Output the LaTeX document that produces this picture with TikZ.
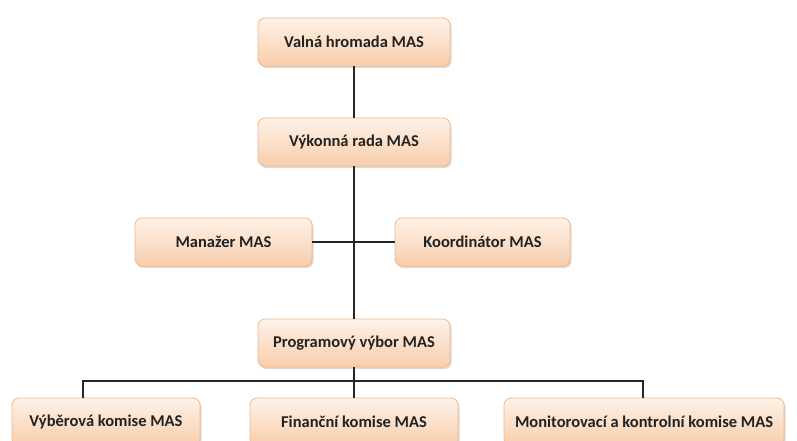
\documentclass[tikz,border=0pt]{standalone}
\usepackage{fontspec}
\setmainfont{Carlito}
\usetikzlibrary{positioning, shadows}

\definecolor{okraj}{HTML}{F2B88A}
\definecolor{hornibarva}{HTML}{FEF2E8}
\definecolor{dolnibarva}{HTML}{F9CDAB}
\definecolor{textbarva}{HTML}{222222}

\tikzset{
  organ/.style={draw=okraj, line width=0.8pt, rounded corners=7pt,
    top color=hornibarva, bottom color=dolnibarva,
    drop shadow={shadow xshift=1.5pt, shadow yshift=-2pt, opacity=0.25, fill=black!60},
    minimum height=48pt, inner sep=0pt, text=textbarva,
    font=\fontsize{16.5}{18}\selectfont\bfseries},
  spoj/.style={draw=black!85, line width=1.1pt}
}

\begin{document}
\begin{tikzpicture}[x=1pt, y=-1pt]
    \useasboundingbox (0,0) rectangle (797,441);
    \clip (0,0) rectangle (797,441);

    % Vedeni
    \node[organ, minimum width=192pt] (valna) at (354,42) {Valná hromada MAS};
    \node[organ, minimum width=192pt] (vykonna) at (354,142) {Výkonná rada MAS};

    % Stredni uroven
    \node[organ, minimum width=177pt] (manazer) at (223.5,242) {Manažer MAS};
    \node[organ, minimum width=175pt] (koord) at (482.5,242) {Koordinátor MAS};

    \node[organ, minimum width=192pt] (program) at (354,343) {Programový výbor MAS};

    % Komise
    \node[organ, minimum width=188pt] (vyber) at (106,422) {Výběrová komise MAS};
    \node[organ, minimum width=208pt] (financni) at (354,422) {Finanční komise MAS};
    \node[organ, minimum width=280pt] (monitor) at (644,422) {Monitorovací a kontrolní komise MAS};

    % Spojnice
    \coordinate (rozcesti) at (354,381);
    \coordinate (levy) at (83,381);
    \coordinate (pravy) at (643,381);
    \draw[spoj] (valna) -- (vykonna);
    \draw[spoj] (vykonna) -- (program);
    \draw[spoj] (manazer) -- (koord);
    \draw[spoj] (program) -- (financni);
    \draw[spoj] (levy |- vyber.north) -- (levy) -- (pravy) -- (pravy |- monitor.north);

\end{tikzpicture}
\end{document}
